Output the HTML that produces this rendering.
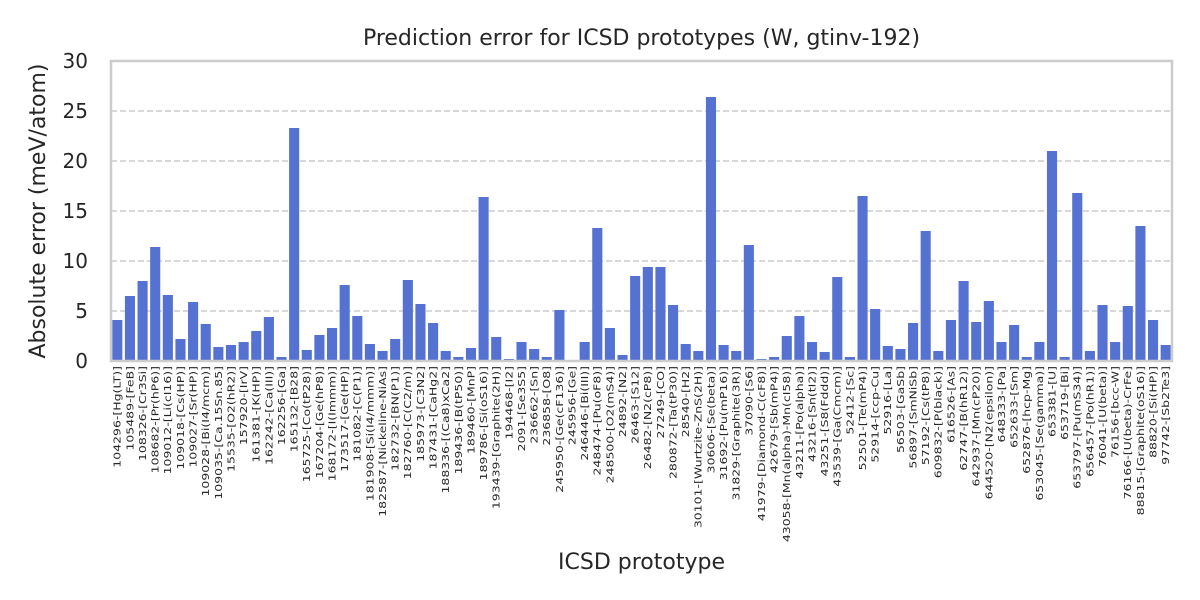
<!DOCTYPE html>
<html><head><meta charset="utf-8"><style>
body{margin:0;background:#fff;}
svg{display:block;font-family:"DejaVu Sans","Liberation Sans",sans-serif;}
</style></head><body>
<svg id="chart" width="1200" height="600"></svg>
<script>
const categories=["104296-[Hg(LT)]","105489-[FeB]","108326-[Cr3Si]","108682-[Pr(hP6)]","109012-[Li(cI16)]","109018-[Cs(HP)]","109027-[Sr(HP)]","109028-[Bi(I4/mcm)]","109035-[Ca.15Sn.85]","15535-[O2(hR2)]","157920-[IrV]","161381-[K(HP)]","162242-[Ca(III)]","162256-[Ga]","165132-[B28]","165725-[Co(tP28)]","167204-[Ge(hP8)]","168172-[I(Immm)]","173517-[Ge(HP)]","181082-[C(P1)]","181908-[Si(I4/mmm)]","182587-[Nickeline-NiAs]","182732-[BN(P1)]","182760-[C(C2/m)]","185973-[C3N2]","187431-[CaHg2]","188336-[(Ca8)xCa2]","189436-[B(tP50)]","189460-[MnP]","189786-[Si(oS16)]","193439-[Graphite(2H)]","194468-[I2]","2091-[Se3S5]","236662-[Sn]","236858-[O8]","245950-[Ge(cF136)]","245956-[Ge]","246446-[Bi(III)]","248474-[Pu(oF8)]","248500-[O2(mS4)]","24892-[N2]","26463-[S12]","26482-[N2(cP8)]","27249-[CO]","280872-[Ta(tP30)]","28540-[H2]","30101-[Wurtzite-ZnS(2H)]","30606-[Se(beta)]","31692-[Pu(mP16)]","31829-[Graphite(3R)]","37090-[S6]","41979-[Diamond-C(cF8)]","42679-[Sb(mP4)]","43058-[Mn(alpha)-Mn(cI58)]","43211-[Po(alpha)]","43216-[Sn(tI2)]","43251-[S8(Fddd)]","43539-[Ga(Cmcm)]","52412-[Sc]","52501-[Te(mP4)]","52914-[ccp-Cu]","52916-[La]","56503-[GaSb]","56897-[SmNiSb]","57192-[Cs(tP8)]","609832-[P(black)]","616526-[As]","62747-[B(hR12)]","642937-[Mn(cP20)]","644520-[N2(epsilon)]","648333-[Pa]","652633-[Sm]","652876-[hcp-Mg]","653045-[Se(gamma)]","653381-[U]","653719-[Bi]","653797-[Pu(mS34)]","656457-[Po(hR1)]","76041-[U(beta)]","76156-[bcc-W]","76166-[U(beta)-CrFe]","88815-[Graphite(oS16)]","88820-[Si(HP)]","97742-[Sb2Te3]"];
const errors=[4.1,6.5,8.0,11.4,6.6,2.2,5.9,3.7,1.4,1.6,1.9,3.0,4.4,0.4,23.3,1.1,2.6,3.3,7.6,4.5,1.7,1.0,2.2,8.1,5.7,3.8,1.0,0.4,1.3,16.4,2.4,0.2,1.9,1.2,0.4,5.1,0.0,1.9,13.3,3.3,0.6,8.5,9.4,9.4,5.6,1.7,1.0,26.4,1.6,1.0,11.6,0.2,0.4,2.5,4.5,1.9,0.9,8.4,0.4,16.5,5.2,1.5,1.2,3.8,13.0,1.0,4.1,8.0,3.9,6.0,1.9,3.6,0.4,1.9,21.0,0.4,16.8,1.0,5.6,1.9,5.5,13.5,4.1,1.6];
const yTicks=[0,5,10,15,20,25,30];
const NS="http://www.w3.org/2000/svg";
const svg=document.getElementById('chart');
const L=111,R=1172,T=61,B=361,yMax=30;
const step=(R-L)/categories.length;
const xC=i=>L+step*(i+0.5);
const y=v=>B-(v/yMax)*(B-T);
function mk(tag,attrs,parent){const e=document.createElementNS(NS,tag);for(const k in attrs)e.setAttribute(k,attrs[k]);(parent||svg).appendChild(e);return e;}
yTicks.forEach(t=>{
  if(t>0&&t<yMax){const g=mk('line',{x1:L,x2:R,y1:y(t),y2:y(t),stroke:'#cccccc','stroke-width':1.5,'stroke-dasharray':'6,3'});
  
  }
  const tl=mk('text',{x:88,y:y(t)+7,'text-anchor':'end','font-size':20,fill:'#262626'});
  tl.textContent=t;
  
  
});
errors.forEach((v,i)=>{
  const bw=step*0.8;
  const r=mk('rect',{x:xC(i)-bw/2,y:y(v),width:bw,height:B-y(v),fill:'#5572d2'});
  
  
  const t=mk('text',{transform:`translate(${xC(i)+3.4},366) rotate(-90) scale(1.3,1)`,'text-anchor':'end','font-size':9.6,fill:'#262626'});
  t.textContent=categories[i];
  
  
});
const frame=mk('rect',{x:L,y:T,width:R-L,height:B-T,fill:'none',stroke:'#cccccc','stroke-width':2.5});


const title=mk('text',{x:(L+R)/2,y:45,'text-anchor':'middle','font-size':22,fill:'#262626'});
title.textContent='Prediction error for ICSD prototypes (W, gtinv-192)';


const yt=mk('text',{transform:'translate(45,211) rotate(-90)','text-anchor':'middle','font-size':22,fill:'#262626'});
yt.textContent='Absolute error (meV/atom)';


const xt=mk('text',{x:(L+R)/2,y:569,'text-anchor':'middle','font-size':22,fill:'#262626'});
xt.textContent='ICSD prototype';


</script>
</body></html>
